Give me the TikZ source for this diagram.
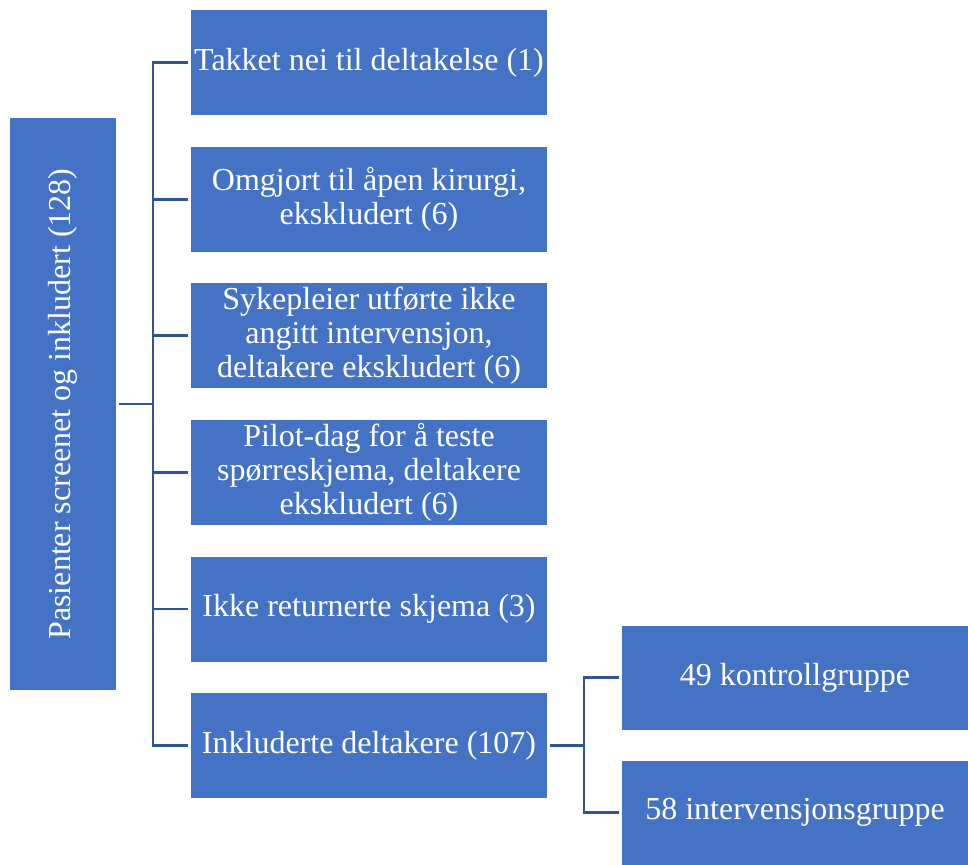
\documentclass[tikz,border=0pt]{standalone}
\usepackage{fontspec}
\setmainfont{Liberation Serif}
\definecolor{boxblue}{HTML}{4472C4}
\definecolor{lineblue}{HTML}{2F5597}
\tikzset{
  stepbox/.style={fill=boxblue, text=white, minimum width=356pt, minimum height=105pt,
    align=center, inner sep=0pt, font=\fontsize{32}{34}\selectfont},
  groupbox/.style={stepbox, minimum width=346pt, minimum height=104pt},
  link/.style={draw=lineblue, line width=2.5pt}
}
\begin{document}
\begin{tikzpicture}[x=1pt,y=-1pt]
        \useasboundingbox (0,0) rectangle (968,864);
        \node [stepbox, rotate=90, minimum width=572pt, minimum height=106pt] (pas) at (63,404) {Pasienter screenet og inkludert (128)};

        \node [stepbox] (b1) at (369,62.5) {Takket nei til deltakelse (1)};
        \node [stepbox] (b2) at (369,199.5) {Omgjort til åpen kirurgi,\\ ekskludert (6)};
        \node [stepbox] (b3) at (369,335.5) {Sykepleier utførte ikke\\ angitt intervensjon,\\ deltakere ekskludert (6)};
        \node [stepbox] (b4) at (369,472.5) {Pilot-dag for å teste\\ spørreskjema, deltakere\\ ekskludert (6)};
        \node [stepbox] (b5) at (369,609) {Ikke returnerte skjema (3)};
        \node [stepbox] (b6) at (369,745.5) {Inkluderte deltakere (107)};

        \node [groupbox] (g1) at (795,677.5) {49 kontrollgruppe};
        \node [groupbox] (g2) at (795,812.5) {58 intervensjonsgruppe};

        \coordinate (spine) at (153,404);
        \coordinate (fork) at (584,745.5);

        \draw[link] ([xshift=3pt]pas.south) -- (spine);
        \draw[link] ([xshift=-3pt]b1.west) -- (spine |- b1.west) -- (spine |- b6.west) -- ([xshift=-3pt]b6.west);
        \foreach \i in {2,...,5}
          \draw[link] (spine |- b\i.west) -- ([xshift=-3pt]b\i.west);

        \draw[link] ([xshift=3pt]b6.east) -- (fork);
        \draw[link] ([xshift=-3pt]g1.west) -- (fork |- g1.west) -- (fork |- g2.west) -- ([xshift=-3pt]g2.west);
\end{tikzpicture}
\end{document}
